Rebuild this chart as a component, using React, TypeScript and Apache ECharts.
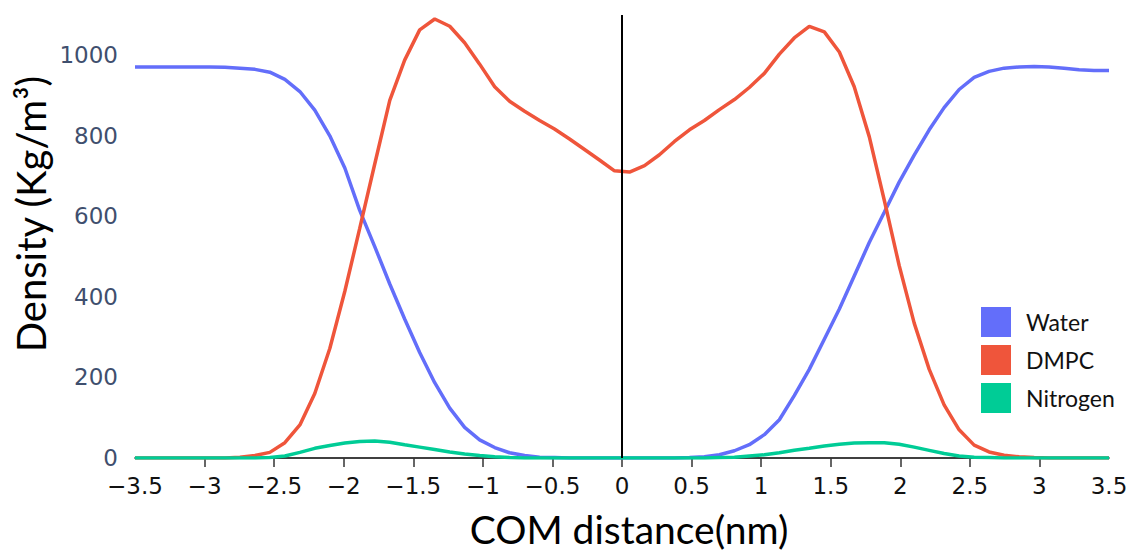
import React, { useEffect, useRef } from "react";
import * as echarts from "echarts";

const xPositions = [
  -3.5, -3.392, -3.285, -3.177, -3.069, -2.962, -2.854, -2.746, -2.638, -2.531,
  -2.423, -2.315, -2.208, -2.1, -1.992, -1.885, -1.777, -1.669, -1.562, -1.454,
  -1.346, -1.238, -1.131, -1.023, -0.915, -0.808, -0.7, -0.592, -0.485, -0.377,
  -0.269, -0.162, -0.054, 0.054, 0.162, 0.269, 0.377, 0.485, 0.592, 0.7,
  0.808, 0.915, 1.023, 1.131, 1.238, 1.346, 1.454, 1.562, 1.669, 1.777,
  1.885, 1.992, 2.1, 2.208, 2.315, 2.423, 2.531, 2.638, 2.746, 2.854,
  2.962, 3.069, 3.177, 3.285, 3.392, 3.5,
];

const waterValues = [
  971, 971, 971, 971, 971, 971, 970, 968, 965, 958,
  940, 910, 864, 800, 720, 615, 525, 432, 345, 262,
  187, 124, 76, 45, 26, 13, 6, 2, 1, 0,
  0, 0, 0, 0, 0, 0, 0, 1, 3, 8,
  18, 33, 58, 95, 155, 220, 295, 370, 452, 535,
  610, 685, 752, 815, 870, 915, 945, 960, 968, 971,
  972, 971, 968, 964, 962, 962,
];

const dmpcValues = [
  0, 0, 0, 0, 0, 0, 0, 2, 6, 14,
  38, 82, 160, 272, 414, 570, 730, 888, 988, 1063,
  1090, 1072, 1031, 978, 922, 886, 861, 838, 817, 792,
  766, 740, 713, 710, 726, 753, 786, 815, 838, 865,
  890, 920, 955, 1003, 1043, 1072, 1058, 1008, 922, 798,
  640, 478, 335, 220, 132, 70, 32, 15, 7, 3,
  1, 0, 0, 0, 0, 0,
];

const nitrogenValues = [
  0, 0, 0, 0, 0, 0, 0, 0, 0, 1,
  5, 14, 24, 31, 37, 41, 42, 39, 33, 27,
  21, 15, 10, 6, 3, 1, 0, 0, 0, 0,
  0, 0, 0, 0, 0, 0, 0, 0, 0, 1,
  2, 5, 8, 13, 19, 24, 30, 34, 37, 38,
  38, 34, 27, 19, 11, 5, 2, 1, 0, 0,
  0, 0, 0, 0, 0, 0,
];

const seriesNames = ["Water", "DMPC", "Nitrogen"];
const seriesColors = ["#636efa", "#ef553b", "#00cc96"];
const xTickValues = [-3, -2.5, -2, -1.5, -1, -0.5, 0, 0.5, 1, 1.5, 2, 2.5, 3];
const xLabelValues = [-3.5, -3, -2.5, -2, -1.5, -1, -0.5, 0, 0.5, 1, 1.5, 2, 2.5, 3, 3.5];

const xTitle = "COM distance(nm)";
const yTitle = "Density (Kg/m³)";

export default function App() {
  const ref = useRef<HTMLDivElement>(null);

  useEffect(() => {
    if (!ref.current) return;
    const chart = echarts.init(ref.current, null, { renderer: "svg" });
    const pair = (vals: number[]) => xPositions.map((x, i) => [x, vals[i]]);
    const allValues = [waterValues, dmpcValues, nitrogenValues];

    chart.setOption({
      animation: false,
      backgroundColor: "#ffffff",
      grid: { left: 135, right: 22, top: 15, bottom: 95, containLabel: false },
      legend: {
        orient: "vertical",
        left: 981,
        top: 307,
        padding: 0,
        itemWidth: 30,
        itemHeight: 30,
        itemGap: 8,
        icon: "rect",
        data: seriesNames,
        textStyle: { fontFamily: "Lato", fontSize: 23, color: "#111", padding: [0, 0, 0, 10] },
      },
      xAxis: {
        type: "value",
        min: -3.5,
        max: 3.5,
        interval: 0.5,
        axisLine: { show: true, onZero: true, lineStyle: { color: "#000", width: 1.5 } },
        axisTick: {
          show: true,
          length: 9,
          inside: false,
          customValues: xTickValues,
          lineStyle: { color: "#333", width: 1.5 },
        },
        axisLabel: {
          customValues: xLabelValues,
          margin: 16,
          fontFamily: "DejaVu Sans",
          fontSize: 23,
          color: "#111",
          formatter: (v: number) => String(v).replace("-", "\u2212"),
        },
        splitLine: { show: false },
      },
      yAxis: {
        type: "value",
        min: 0,
        max: 1100,
        interval: 200,
        axisLine: { show: false },
        axisTick: { show: false },
        splitLine: { show: false },
        axisLabel: {
          margin: 17,
          fontFamily: "DejaVu Sans",
          fontSize: 23,
          color: "#3f4f6e",
          showMaxLabel: false,
          formatter: (v: number) => (v % 200 === 0 ? String(v) : ""),
        },
      },
      graphic: [
        {
          type: "text",
          x: 629,
          y: 529,
          style: {
            text: xTitle,
            font: "39px Lato",
            fill: "#000",
            textAlign: "center",
            textVerticalAlign: "middle",
          },
        },
        {
          type: "text",
          x: 31,
          y: 214,
          rotation: Math.PI / 2,
          style: {
            text: yTitle,
            font: "40px Lato",
            fill: "#000",
            textAlign: "center",
            textVerticalAlign: "middle",
          },
        },
      ],
      series: seriesNames.map((name, k) => ({
        name,
        type: "line",
        data: pair(allValues[k]),
        showSymbol: false,
        symbol: "none",
        smooth: false,
        color: seriesColors[k],
        lineStyle: { color: seriesColors[k], width: 3.5 },
        itemStyle: { color: seriesColors[k] },
        z: 3 + k,
        markLine:
          k === 0
            ? {
                silent: true,
                symbol: "none",
                label: { show: false },
                lineStyle: { color: "#000", width: 2, type: "solid" },
                data: [{ xAxis: 0 }],
                z: 10,
              }
            : undefined,
      })),
    });

    return () => chart.dispose();
  }, []);

  return (
    <div
      ref={ref}
      style={{ position: "fixed", left: 0, top: 0, width: 1131, height: 553, background: "#fff" }}
    />
  );
}
